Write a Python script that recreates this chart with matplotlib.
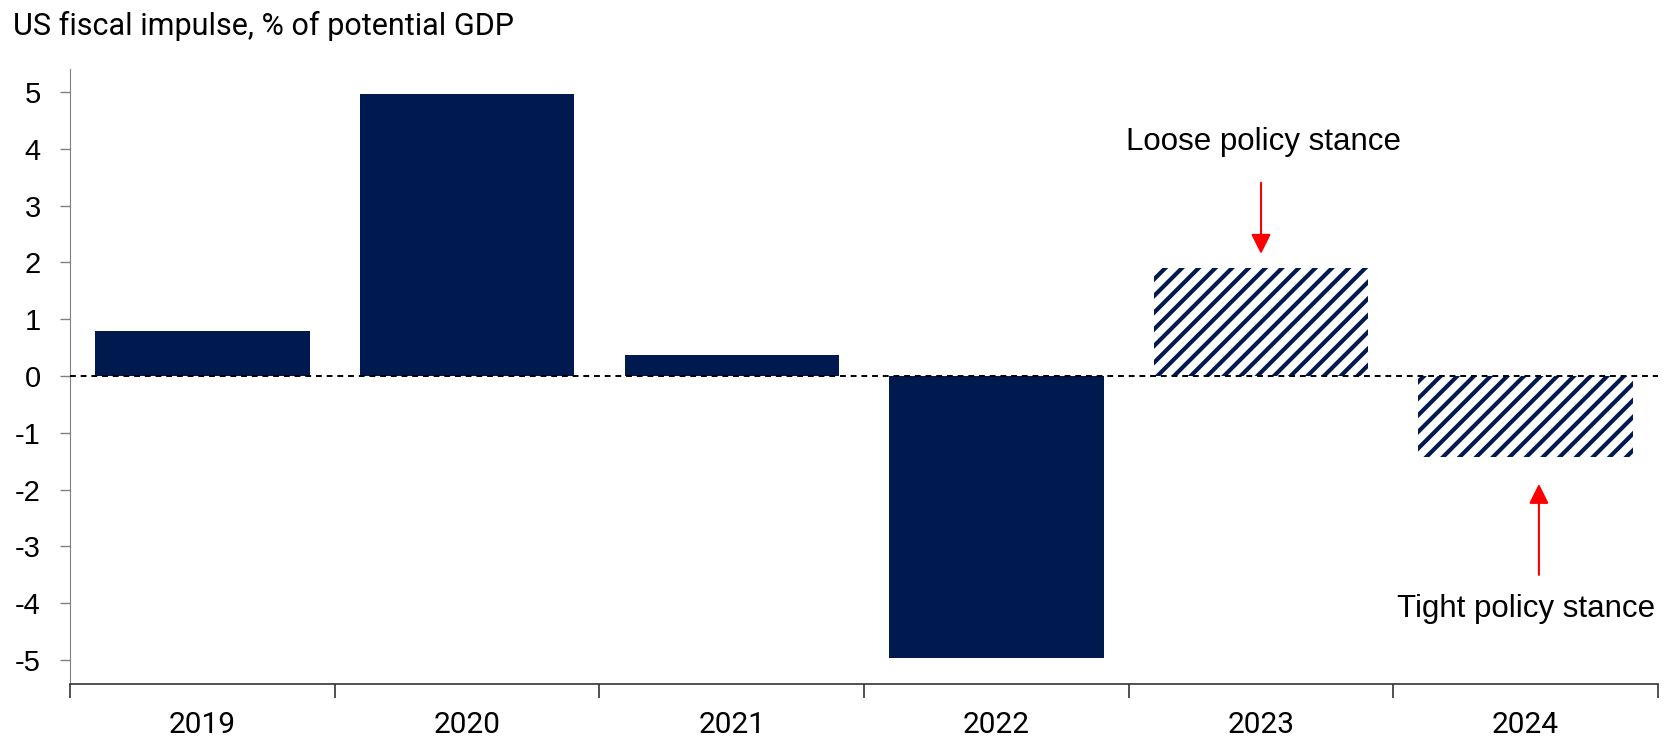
import matplotlib
matplotlib.use("Agg")
import matplotlib.pyplot as plt
import numpy as np

plt.rcParams.update({"axes.unicode_minus": False, "hatch.linewidth": 3.0,
                     "font.family": ["Roboto", "DejaVu Sans"]})

years = ["2019", "2020", "2021", "2022", "2023", "2024"]
impulse = [0.79, 4.96, 0.37, -4.97, 1.90, -1.43]
projected = [False, False, False, False, True, True]
yticks = [-5, -4, -3, -2, -1, 0, 1, 2, 3, 4, 5]

NAVY = "#001a50"

fig = plt.figure(figsize=(16.64, 7.44), dpi=100)
ax = fig.add_axes([0.0421, 0.080, 0.9543, 0.827])

x = np.arange(len(years))
for xi, v, p in zip(x, impulse, projected):
    if p:
        ax.bar(xi, v, width=0.81, facecolor="white", edgecolor=NAVY, hatch="//", linewidth=0)
    else:
        ax.bar(xi, v, width=0.81, color=NAVY, linewidth=0)

ax.axhline(0, color="black", ls=(0, (3, 2.5)), lw=1.4, zorder=3)

ax.set_xlim(-0.5, len(years) - 0.5)
ax.set_ylim(-5.43, 5.4)
ax.set_yticks(yticks)
ax.set_yticklabels([str(t) for t in yticks], fontsize=21, family=["Liberation Sans", "DejaVu Sans"])
ax.set_xticks(x)
ax.set_xticklabels(years, fontsize=21.5)
ax.set_xticks(np.arange(len(years) + 1) - 0.5, minor=True)
ax.tick_params(axis="x", which="major", length=0, pad=19)
ax.tick_params(axis="x", which="minor", length=10, width=1.2, direction="out", color="#333333")
ax.tick_params(axis="y", length=7, width=1, color="#808080", pad=14)

for s in ["top", "right"]:
    ax.spines[s].set_visible(False)
ax.spines["left"].set_color("#808080")
ax.spines["bottom"].set_color("#333333")
ax.spines["bottom"].set_linewidth(1.2)

afont = ["Liberation Sans", "DejaVu Sans"]
ax.text(4.01, 4.12, "Loose policy stance", ha="center", va="center", fontsize=22.5, family=afont)
ax.annotate("", xy=(4.0, 2.1), xytext=(4.0, 3.45),
            arrowprops=dict(arrowstyle="-|>", color="red", lw=1.5, mutation_scale=30))
ax.text(5.0, -4.1, "Tight policy stance", ha="center", va="center", fontsize=22.5, family=afont)
ax.annotate("", xy=(5.05, -1.85), xytext=(5.05, -3.55),
            arrowprops=dict(arrowstyle="-|>", color="red", lw=1.5, mutation_scale=30))

fig.text(0.0076, 0.985, "US fiscal impulse, % of potential GDP", ha="left", va="top", fontsize=22)

fig.savefig("out.png", dpi=100)
